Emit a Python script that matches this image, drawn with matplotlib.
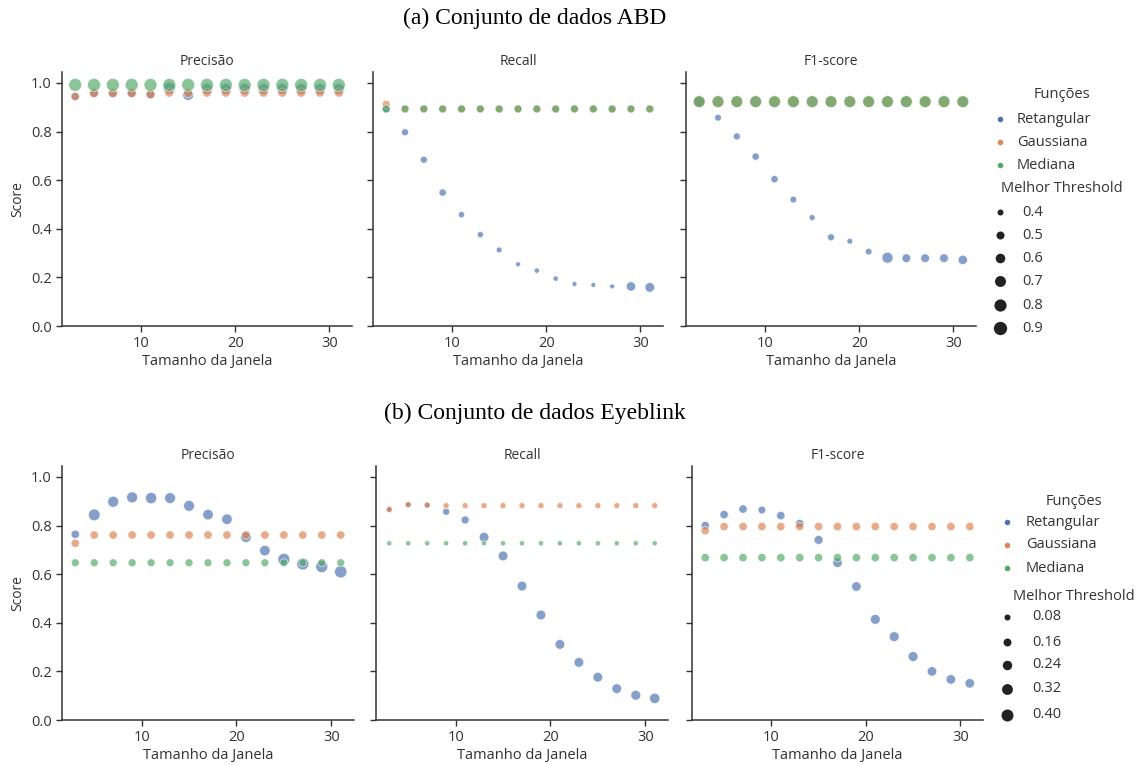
import matplotlib
matplotlib.use("Agg")
import matplotlib.pyplot as plt
import numpy as np

# ---------------- data ----------------
janela = [3, 5, 7, 9, 11, 13, 15, 17, 19, 21, 23, 25, 27, 29, 31]
funcoes = ["Retangular", "Gaussiana", "Mediana"]
metricas = ["Precisão", "Recall", "F1-score"]

# (a) ABD
abd_prec_ret = [0.945, 0.958, 0.958, 0.958, 0.953, 0.978, 0.951, 0.975, 0.975, 0.975, 0.975, 0.975, 0.975, 0.975, 0.975]
abd_prec_gau = [0.944, 0.958, 0.958, 0.958, 0.953, 0.960, 0.958, 0.960, 0.960, 0.960, 0.960, 0.960, 0.960, 0.960, 0.960]
abd_prec_med = [0.992] * 15
abd_rec_ret = [0.893, 0.797, 0.684, 0.549, 0.458, 0.376, 0.313, 0.254, 0.228, 0.195, 0.173, 0.169, 0.163, 0.163, 0.159]
abd_rec_gau = [0.912] + [0.893] * 14
abd_rec_med = [0.893] * 15
abd_f1_ret = [0.923, 0.857, 0.780, 0.697, 0.604, 0.520, 0.446, 0.365, 0.349, 0.306, 0.281, 0.279, 0.279, 0.279, 0.272]
abd_f1_gau = [0.923] * 15
abd_f1_med = [0.923] * 15

# best thresholds (ABD)
abd_thr_prec_ret = [0.52, 0.55, 0.55, 0.55, 0.55, 0.78, 0.70, 0.70, 0.70, 0.70, 0.70, 0.70, 0.70, 0.70, 0.70]
abd_thr_prec_gau = [0.52] + [0.56] * 14
abd_thr_prec_med = [0.87] * 15
abd_thr_rec_ret = [0.50, 0.446, 0.446, 0.46, 0.41, 0.41, 0.39, 0.36, 0.37, 0.37, 0.355, 0.355, 0.355, 0.58, 0.60]
abd_thr_rec_gau = [0.50] * 15
abd_thr_rec_med = [0.50] * 15
abd_thr_f1_ret = [0.60, 0.43, 0.446, 0.46, 0.46, 0.43, 0.40, 0.446, 0.39, 0.43, 0.70, 0.54, 0.54, 0.54, 0.58]
abd_thr_f1_gau = [0.75] * 15
abd_thr_f1_med = [0.78] * 15
abd_thr_ticks = [0.4, 0.5, 0.6, 0.7, 0.8, 0.9]

# (b) Eyeblink
eye_prec_ret = [0.764, 0.844, 0.898, 0.916, 0.913, 0.913, 0.881, 0.845, 0.826, 0.752, 0.697, 0.661, 0.642, 0.631, 0.610]
eye_prec_gau = [0.727] + [0.761] * 14
eye_prec_med = [0.647] * 15
eye_rec_ret = [0.866, 0.886, 0.884, 0.857, 0.823, 0.752, 0.675, 0.551, 0.432, 0.311, 0.237, 0.176, 0.129, 0.102, 0.089]
eye_rec_gau = [0.866, 0.886, 0.884] + [0.882] * 12
eye_rec_med = [0.727] * 15
eye_f1_ret = [0.800, 0.845, 0.868, 0.864, 0.841, 0.808, 0.741, 0.647, 0.549, 0.414, 0.343, 0.261, 0.200, 0.167, 0.151]
eye_f1_gau = [0.779] + [0.796] * 14
eye_f1_med = [0.668] * 15

eye_thr_prec_ret = [0.18, 0.38, 0.33, 0.33, 0.35, 0.32, 0.32, 0.30, 0.30, 0.30, 0.30, 0.40, 0.40, 0.40, 0.42]
eye_thr_prec_gau = [0.18] * 15
eye_thr_prec_med = [0.16] * 15
eye_thr_rec_ret = [0.08, 0.08, 0.08, 0.12, 0.16, 0.25, 0.25, 0.25, 0.25, 0.25, 0.25, 0.25, 0.25, 0.26, 0.29]
eye_thr_rec_gau = [0.08] * 15
eye_thr_rec_med = [0.055] * 15
eye_thr_f1_ret = [0.18, 0.18, 0.18, 0.15, 0.18, 0.18, 0.21, 0.24, 0.24, 0.26, 0.26, 0.26, 0.24, 0.24, 0.24]
eye_thr_f1_gau = [0.18] * 15
eye_thr_f1_med = [0.18] * 15
eye_thr_ticks = [0.08, 0.16, 0.24, 0.32, 0.40]

titulos = ["(a) Conjunto de dados ABD", "(b) Conjunto de dados Eyeblink"]

# ---------------- style ----------------
W, H = 1138, 765
colors = ["#4c72b0", "#dd8452", "#55a868"]
TXT = "#333333"
plt.rcParams["font.family"] = ["Open Sans", "DejaVu Sans"]
plt.rcParams["font.size"] = 10

fig = plt.figure(figsize=(W / 100, H / 100), dpi=100)


def size_top(t):
    d2 = 36 + (np.asarray(t) - 0.4) / 0.5 * 141
    return d2 / 1.929


def size_bot(t):
    d2 = 36 + (np.asarray(t) - 0.08) / 0.32 * 108
    return d2 / 1.929


def px_axes(x0, x1, y0, y1):
    return fig.add_axes([x0 / W, 1 - y1 / H, (x1 - x0) / W, (y1 - y0) / H])


datasets = [
    dict(
        vals=[[abd_prec_ret, abd_prec_gau, abd_prec_med],
              [abd_rec_ret, abd_rec_gau, abd_rec_med],
              [abd_f1_ret, abd_f1_gau, abd_f1_med]],
        thr=[[abd_thr_prec_ret, abd_thr_prec_gau, abd_thr_prec_med],
             [abd_thr_rec_ret, abd_thr_rec_gau, abd_thr_rec_med],
             [abd_thr_f1_ret, abd_thr_f1_gau, abd_thr_f1_med]],
        sizef=size_top, rows=(72, 326),
        cols=[(62, 352), (373, 663), (686, 976)],
        title_y=18, ticks=abd_thr_ticks,
    ),
    dict(
        vals=[[eye_prec_ret, eye_prec_gau, eye_prec_med],
              [eye_rec_ret, eye_rec_gau, eye_rec_med],
              [eye_f1_ret, eye_f1_gau, eye_f1_med]],
        thr=[[eye_thr_prec_ret, eye_thr_prec_gau, eye_thr_prec_med],
             [eye_thr_rec_ret, eye_thr_rec_gau, eye_thr_rec_med],
             [eye_thr_f1_ret, eye_thr_f1_gau, eye_thr_f1_med]],
        sizef=size_bot, rows=(466, 720),
        cols=[(62, 354), (376, 668), (692, 983)],
        title_y=413, ticks=eye_thr_ticks,
    ),
]

for di, ds in enumerate(datasets):
    y0, y1 = ds["rows"]
    for mi, (x0, x1) in enumerate(ds["cols"]):
        ax = px_axes(x0, x1, y0, y1)
        for fi in range(3):
            ax.scatter(janela, ds["vals"][mi][fi], s=ds["sizef"](ds["thr"][mi][fi]),
                       color=colors[fi], alpha=0.68, edgecolor="white", linewidth=0.6, zorder=2 + fi)
        ax.set_ylim(0, 1.045)
        ax.set_yticks(np.arange(0, 1.01, 0.2))
        ax.set_xticks([10, 20, 30])
        for sp in ["top", "right"]:
            ax.spines[sp].set_visible(False)
        for sp in ["left", "bottom"]:
            ax.spines[sp].set_color("#333333")
            ax.spines[sp].set_linewidth(1.1)
        ax.tick_params(colors="#333333", labelcolor=TXT, length=4, width=1.0, labelsize=10.5)
        if mi == 0:
            ax.set_yticklabels([f"{v:.1f}" for v in np.arange(0, 1.01, 0.2)])
            ax.set_ylabel("Score", color=TXT, fontsize=10)
        else:
            ax.set_yticklabels([])
        ax.set_xlabel("Tamanho da Janela", color=TXT, fontsize=10.5, labelpad=2)
        ax.set_title(metricas[mi], color=TXT, fontsize=10, pad=5)
    fig.text(535 / W, 1 - ds["title_y"] / H, titulos[di], ha="center", va="center",
             family="Liberation Serif", fontsize=17, color="black")

# ---------------- legends ----------------
lax = fig.add_axes([0, 0, 1, 1], zorder=10)
lax.set_xlim(0, W)
lax.set_ylim(H, 0)
lax.axis("off")

legends = [
    dict(cx=1062, ty=94, hy=[119, 142, 165], mx=1000, lx=1017, sty=188,
         sy=[212, 235, 258, 281, 305, 328], slx=1022, fs=10.5),
    dict(cx=1074, ty=501, hy=[522, 545, 568], mx=1007, lx=1026, sty=596,
         sy=[617, 642, 665, 689, 715], slx=1032, fs=10.5),
]
for di, lg in enumerate(legends):
    ds = datasets[di]
    lax.text(lg["cx"], lg["ty"], "Funções", ha="center", va="center", color=TXT, fontsize=lg["fs"])
    for fi in range(3):
        lax.scatter([lg["mx"]], [lg["hy"][fi]], s=16, color=colors[fi], linewidth=0)
        lax.text(lg["lx"], lg["hy"][fi], funcoes[fi], ha="left", va="center", color=TXT, fontsize=lg["fs"])
    lax.text(lg["cx"], lg["sty"], "Melhor Threshold", ha="center", va="center", color=TXT, fontsize=lg["fs"])
    for k, t in enumerate(ds["ticks"]):
        lax.scatter([lg["mx"]], [lg["sy"][k]], s=ds["sizef"](t), color="#222222", linewidth=0)
        lbl = f"{t:.1f}" if di == 0 else f"{t:.2f}"
        lax.text(lg["slx"], lg["sy"][k], lbl, ha="left", va="center", color=TXT, fontsize=lg["fs"])

fig.savefig("out.png", dpi=100)
